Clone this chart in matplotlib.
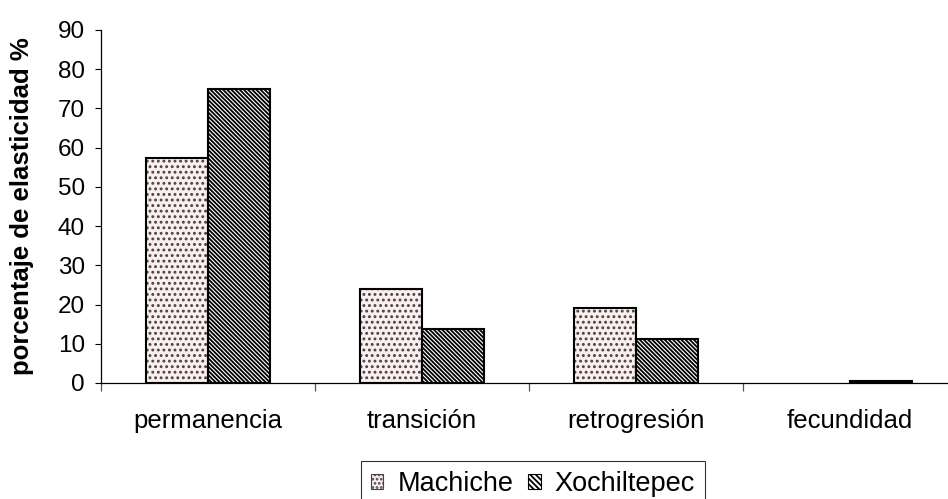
import numpy as np
import matplotlib.pyplot as plt
from matplotlib.patches import Patch

# ============================ Data ============================
categories = ['permanencia', 'transición', 'retrogresión', 'fecundidad']
machiche = [57.3, 24.0, 19.1, 0.0]
xochiltepec = [75.0, 13.7, 11.1, 0.6]
series_labels = ['Machiche', 'Xochiltepec']
y_ticks = [0, 10, 20, 30, 40, 50, 60, 70, 80, 90]

# ============================ Style ============================
plt.rcParams['font.family'] = ['Liberation Sans', 'DejaVu Sans']
plt.rcParams['hatch.linewidth'] = 1.3

PINK = '#fdeeee'
DOT_COLOR = '#444444'
BAR_W = 0.29
DOTS = '...'
STRIPES = '\\' * 8
FS_TICK = 17.5
FS = 18.5
FS_LEG = 19.5

fig = plt.figure(figsize=(9.48, 4.99), dpi=100)
ax = fig.add_axes([0.1066, 0.2325, 0.903, 0.7074])

x = np.arange(len(categories))
m_vals = np.array(machiche)
shown = m_vals > 0

# Machiche: pink fill with grey dots, black outline drawn on top
ax.bar(x[shown] - BAR_W / 2, m_vals[shown], BAR_W, color=PINK,
       edgecolor=DOT_COLOR, hatch=DOTS, linewidth=0, zorder=2)
ax.bar(x[shown] - BAR_W / 2, m_vals[shown], BAR_W, fill=False,
       edgecolor='black', linewidth=1.5, zorder=3)

# Xochiltepec: dense black diagonal stripes
ax.bar(x + BAR_W / 2, xochiltepec, BAR_W, color='white', edgecolor='black',
       hatch=STRIPES, linewidth=1.5, zorder=3)

ax.set_xlim(-0.5, len(categories) - 0.5)
ax.set_ylim(0, 90)
ax.set_yticks(y_ticks)

# ticks at group boundaries, labels at group centers
ax.set_xticks(np.arange(len(categories) + 1) - 0.5)
ax.set_xticklabels([])
ax.set_xticks(x, minor=True)
ax.set_xticklabels(categories, minor=True, fontsize=FS)
ax.tick_params(axis='x', which='minor', length=0, pad=18.5)
ax.tick_params(axis='x', which='major', length=6, width=0.9, color='#555555')
ax.tick_params(axis='y', length=4.5, width=0.8, pad=7, labelsize=FS_TICK)

for side in ('top', 'right'):
    ax.spines[side].set_visible(False)
for side in ('left', 'bottom'):
    ax.spines[side].set_linewidth(0.9)

ax.set_ylabel('porcentaje de elasticidad %', fontsize=FS, fontweight='bold')
ax.yaxis.set_label_coords(-0.078, 0.5)

handles = [
    Patch(facecolor=PINK, edgecolor=DOT_COLOR, hatch='....', linewidth=0.8),
    Patch(facecolor='white', edgecolor='black', hatch='\\' * 6, linewidth=0.8),
]
leg = fig.legend(handles, series_labels, loc='center',
                 bbox_to_anchor=(533 / 948, 1 - 484 / 499), ncol=2,
                 fontsize=FS_LEG, frameon=True, fancybox=False,
                 handlelength=0.45, handleheight=0.45, handletextpad=0.52,
                 columnspacing=0.55, borderpad=0.37, borderaxespad=0)
leg.get_frame().set_edgecolor('black')
leg.get_frame().set_linewidth(0.8)

fig.savefig('out.png', dpi=100)
